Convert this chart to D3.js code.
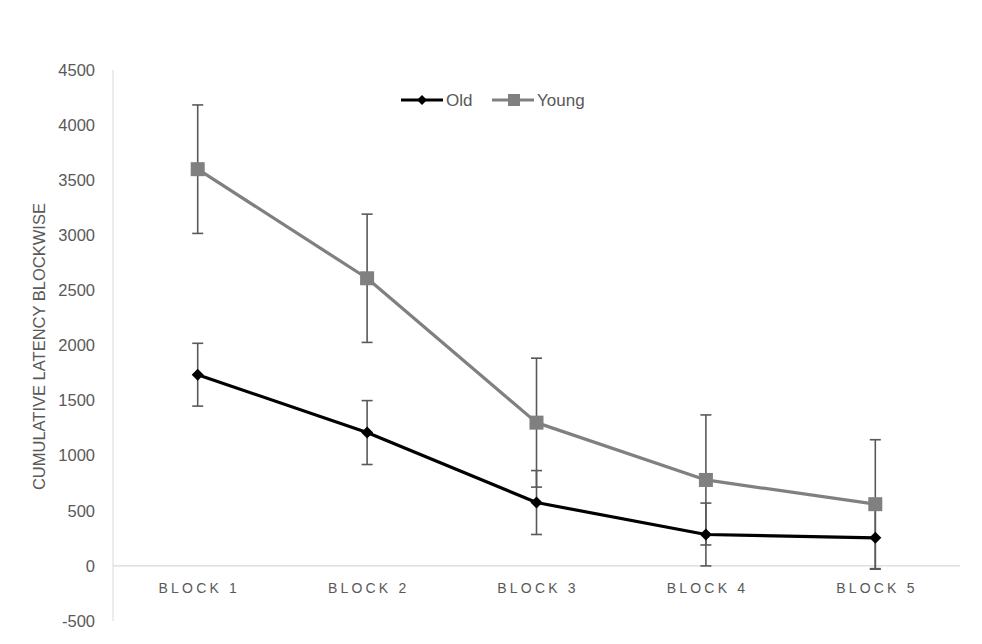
<!DOCTYPE html>
<html>
<head>
<meta charset="utf-8">
<script src="https://cdn.jsdelivr.net/npm/d3@7"></script>
<style>
  body { margin: 0; background: #fff; }
  text { font-family: "Liberation Sans", Arial, sans-serif; }
</style>
</head>
<body>
<svg id="chart" width="982" height="644"></svg>
<script>
const blocks = ["BLOCK 1", "BLOCK 2", "BLOCK 3", "BLOCK 4", "BLOCK 5"];
const oldMeans = [1735, 1210, 575, 285, 255];
const oldErr = [285, 290, 290, 285, 285];
const youngMeans = [3600, 2610, 1300, 780, 560];
const youngErr = [583, 582, 585, 590, 585];
const yTicks = [-500, 0, 500, 1000, 1500, 2000, 2500, 3000, 3500, 4000, 4500];

const svg = d3.select("#chart");
const plot = {left: 113, right: 960, top: 70, bottom: 621};
const textCol = "#595959";

const x = d3.scaleBand().domain(blocks).range([plot.left, plot.right]);
const y = d3.scaleLinear().domain([-500, 4500]).range([plot.bottom, plot.top]);

// y axis line
svg.append("line")
    .attr("x1", plot.left).attr("x2", plot.left)
    .attr("y1", plot.top).attr("y2", plot.bottom)
    .attr("stroke", "#d9d9d9").attr("stroke-width", 1);

// zero line
svg.append("line")
    .attr("x1", plot.left).attr("x2", plot.right)
    .attr("y1", y(0)).attr("y2", y(0))
    .attr("stroke", "#d9d9d9").attr("stroke-width", 1.3);

// y tick labels
svg.selectAll("text.ytick")
  .data(yTicks)
  .join("text")
    .attr("class", "ytick")
    .attr("x", 95).attr("y", d => y(d))
    .attr("dy", "0.35em")
    .attr("text-anchor", "end")
    .attr("font-size", 16.5)
    .attr("fill", textCol)
    .text(d => d);

// x labels
svg.selectAll("text.xlab")
  .data(blocks)
  .join("text")
    .attr("class", "xlab")
    .attr("x", d => x(d) + x.bandwidth() / 2 + 1.6)
    .attr("y", 593)
    .attr("text-anchor", "middle")
    .attr("font-size", 14)
    .attr("letter-spacing", "3.2px")
    .attr("fill", textCol)
    .text(d => d);

// axis title
svg.append("text")
    .attr("transform", "translate(45," + y(1990) + ") rotate(-90)")
    .attr("text-anchor", "middle")
    .attr("font-size", 16.5)
    .attr("fill", textCol)
    .text("CUMULATIVE LATENCY BLOCKWISE");

const cx = d => x(d) + x.bandwidth() / 2;
const series = [
  {name: "Old", means: oldMeans, err: oldErr, color: "#000000", marker: "diamond"},
  {name: "Young", means: youngMeans, err: youngErr, color: "#808080", marker: "square"}
];

const line = d3.line().x(d => cx(d.block)).y(d => y(d.v));

// lines
series.forEach(s => {
  const pts = blocks.map((b, i) => ({block: b, v: s.means[i]}));
  svg.append("path")
      .attr("d", line(pts))
      .attr("fill", "none")
      .attr("stroke", s.color)
      .attr("stroke-width", 3.2)
      .attr("stroke-linejoin", "round");
});

// error bars
series.forEach(s => {
  const g = svg.append("g").attr("class", "err");
  blocks.forEach((b, i) => {
    const lo = y(s.means[i] - s.err[i]), hi = y(s.means[i] + s.err[i]);
    g.append("line").attr("x1", cx(b)).attr("x2", cx(b)).attr("y1", lo).attr("y2", hi)
        .attr("stroke", "#595959").attr("stroke-width", 1.6);
    [lo, hi].forEach(yy => {
      g.append("line").attr("x1", cx(b) - 5.5).attr("x2", cx(b) + 5.5).attr("y1", yy).attr("y2", yy)
          .attr("stroke", "#595959").attr("stroke-width", 1.6);
    });
  });
});

function drawMarker(g, type, px, py, color) {
  if (type === "diamond") {
    g.append("path")
        .attr("d", `M${px},${py - 6}L${px + 6},${py}L${px},${py + 6}L${px - 6},${py}Z`)
        .attr("fill", color);
  } else {
    g.append("rect")
        .attr("x", px - 7).attr("y", py - 7)
        .attr("width", 14).attr("height", 14)
        .attr("fill", color);
  }
}

// markers
series.forEach(s => {
  const g = svg.append("g");
  blocks.forEach((b, i) => drawMarker(g, s.marker, cx(b), y(s.means[i]), s.color));
});

// legend
const legendX = [401, 492];
series.forEach((s, i) => {
  const lx = legendX[i], ly = 100;
  const g = svg.append("g");
  g.append("line").attr("x1", lx).attr("x2", lx + 42).attr("y1", ly).attr("y2", ly)
      .attr("stroke", s.color).attr("stroke-width", 3.2);
  if (s.marker === "diamond") {
    g.append("path")
        .attr("d", `M${lx + 21},${ly - 5}L${lx + 26},${ly}L${lx + 21},${ly + 5}L${lx + 16},${ly}Z`)
        .attr("fill", s.color);
  } else {
    g.append("rect").attr("x", lx + 16).attr("y", ly - 6).attr("width", 12).attr("height", 12)
        .attr("fill", s.color);
  }
  g.append("text")
      .attr("x", lx + 45).attr("y", ly).attr("dy", "0.35em")
      .attr("font-size", 17).attr("fill", textCol)
      .text(s.name);
});
</script>
</body>
</html>
